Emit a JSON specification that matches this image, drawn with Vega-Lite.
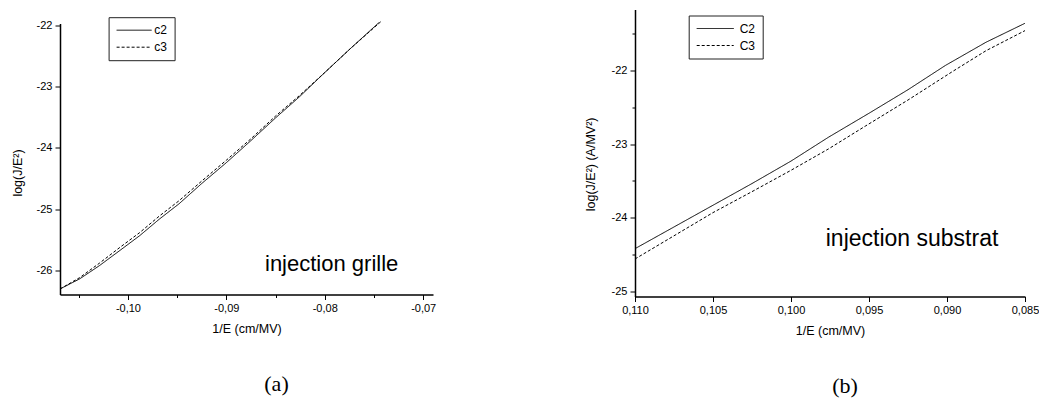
{
  "$schema": "https://vega.github.io/schema/vega-lite/v6.json",
  "background": "white",
  "padding": {"left": 11, "top": 6.5, "right": 0, "bottom": 0},
  "spacing": 148,
  "resolve": {"scale": {"strokeDash": "independent"}, "legend": {"strokeDash": "independent"}},
  "datasets": {
    "a": [
      {"x": -0.1069, "y": -26.30, "s": "c2"},
      {"x": -0.1049, "y": -26.135, "s": "c2"},
      {"x": -0.1029, "y": -25.92, "s": "c2"},
      {"x": -0.1008, "y": -25.67, "s": "c2"},
      {"x": -0.0988, "y": -25.43, "s": "c2"},
      {"x": -0.0968, "y": -25.16, "s": "c2"},
      {"x": -0.0948, "y": -24.91, "s": "c2"},
      {"x": -0.0925, "y": -24.58, "s": "c2"},
      {"x": -0.0900, "y": -24.24, "s": "c2"},
      {"x": -0.0875, "y": -23.88, "s": "c2"},
      {"x": -0.0850, "y": -23.51, "s": "c2"},
      {"x": -0.0826, "y": -23.17, "s": "c2"},
      {"x": -0.0800, "y": -22.77, "s": "c2"},
      {"x": -0.0774, "y": -22.38, "s": "c2"},
      {"x": -0.0745, "y": -21.956, "s": "c2"},
      {"x": -0.1069, "y": -26.30, "s": "c3"},
      {"x": -0.1049, "y": -26.115, "s": "c3"},
      {"x": -0.1029, "y": -25.88, "s": "c3"},
      {"x": -0.1008, "y": -25.62, "s": "c3"},
      {"x": -0.0988, "y": -25.38, "s": "c3"},
      {"x": -0.0968, "y": -25.11, "s": "c3"},
      {"x": -0.0948, "y": -24.86, "s": "c3"},
      {"x": -0.0925, "y": -24.54, "s": "c3"},
      {"x": -0.0900, "y": -24.20, "s": "c3"},
      {"x": -0.0875, "y": -23.85, "s": "c3"},
      {"x": -0.0850, "y": -23.48, "s": "c3"},
      {"x": -0.0826, "y": -23.15, "s": "c3"},
      {"x": -0.0800, "y": -22.77, "s": "c3"},
      {"x": -0.0774, "y": -22.38, "s": "c3"},
      {"x": -0.0743, "y": -21.94, "s": "c3"}
    ],
    "b": [
      {"x": 0.110, "y": -24.42, "s": "C2"},
      {"x": 0.1075, "y": -24.125, "s": "C2"},
      {"x": 0.105, "y": -23.83, "s": "C2"},
      {"x": 0.1025, "y": -23.535, "s": "C2"},
      {"x": 0.100, "y": -23.23, "s": "C2"},
      {"x": 0.0976, "y": -22.906, "s": "C2"},
      {"x": 0.095, "y": -22.58, "s": "C2"},
      {"x": 0.0925, "y": -22.26, "s": "C2"},
      {"x": 0.0901, "y": -21.93, "s": "C2"},
      {"x": 0.0875, "y": -21.615, "s": "C2"},
      {"x": 0.085, "y": -21.357, "s": "C2"},
      {"x": 0.110, "y": -24.56, "s": "C3"},
      {"x": 0.1075, "y": -24.245, "s": "C3"},
      {"x": 0.105, "y": -23.93, "s": "C3"},
      {"x": 0.1025, "y": -23.645, "s": "C3"},
      {"x": 0.100, "y": -23.355, "s": "C3"},
      {"x": 0.0976, "y": -23.065, "s": "C3"},
      {"x": 0.0952, "y": -22.75, "s": "C3"},
      {"x": 0.0925, "y": -22.40, "s": "C3"},
      {"x": 0.0897, "y": -22.02, "s": "C3"},
      {"x": 0.0875, "y": -21.73, "s": "C3"},
      {"x": 0.085, "y": -21.457, "s": "C3"}
    ],
    "notesA": [{"x": -0.0793, "y": -25.89, "t": "injection grille"}],
    "notesB": [{"x": 0.09224, "y": -24.29, "t": "injection substrat"}]
  },
  "hconcat": [
    {
      "spacing": 0,
      "vconcat": [
        {
          "width": 373,
          "height": 7.7,
          "data": {"values": [{}]},
          "mark": {"type": "text"},
          "encoding": {"text": {"value": ""}}
        },
        {
          "width": 373,
          "height": 271,
          "title": {"text": "(a)", "orient": "bottom", "font": "Liberation Serif", "fontSize": 22, "fontWeight": "normal", "color": "black", "dx": 30, "offset": 39},
          "layer": [
            {
              "data": {"name": "a"},
              "mark": {"type": "line", "color": "black", "strokeWidth": 1},
              "encoding": {
                "x": {"field": "x", "type": "quantitative",
                  "scale": {"domain": [-0.1069, -0.069], "nice": false, "zero": false},
                  "axis": {"title": "1/E (cm/MV)", "values": [-0.105, -0.1, -0.095, -0.09, -0.085, -0.08, -0.075, -0.07],
                    "labelExpr": "abs(datum.value*100 - round(datum.value*100)) > 0.01 ? '' : '-' + replace(format(abs(datum.value), '.2f'), '.', ',')",
                    "tickSize": {"condition": {"test": "abs(datum.value*100 - round(datum.value*100)) > 0.01", "value": 3}, "value": 5},
                    "titleY": 34, "titleBaseline": "middle"}},
                "y": {"field": "y", "type": "quantitative",
                  "scale": {"domain": [-26.39, -21.97], "nice": false, "zero": false},
                  "axis": {"title": "log(J/E²)", "values": [-26, -25.5, -25, -24.5, -24, -23.5, -23, -22.5, -22],
                    "labelExpr": "abs(datum.value - round(datum.value)) > 0.01 ? '' : '-' + format(abs(datum.value), 'd')",
                    "tickSize": {"condition": {"test": "abs(datum.value - round(datum.value)) > 0.01", "value": 3}, "value": 5},
                    "titleX": -42.7, "titleY": 149, "titleBaseline": "middle", "titleAlign": "center"}},
                "strokeDash": {"field": "s", "type": "nominal",
                  "scale": {"domain": ["c2", "c3"], "range": [[1, 0], [3, 2]]},
                  "legend": {"orient": "none", "legendX": 48.6, "legendY": 7.7, "title": null,
                    "symbolType": "M-1,0H6", "symbolSize": 100, "labelOffset": 26.7}}
              }
            },
            {
              "data": {"name": "notesA"},
              "mark": {"type": "text", "font": "Liberation Sans", "fontSize": 22, "color": "black", "align": "center", "baseline": "middle"},
              "encoding": {
                "x": {"field": "x", "type": "quantitative"},
                "y": {"field": "y", "type": "quantitative"},
                "text": {"field": "t"}
              }
            }
          ]
        }
      ]
    },
    {
      "width": 390,
      "height": 287,
      "title": {"text": "(b)", "orient": "bottom", "font": "Liberation Serif", "fontSize": 22, "fontWeight": "normal", "color": "black", "dx": 15, "offset": 39},
      "layer": [
        {
          "data": {"name": "b"},
          "mark": {"type": "line", "color": "black", "strokeWidth": 1},
          "encoding": {
            "x": {"field": "x", "type": "quantitative",
              "scale": {"domain": [0.085, 0.110], "reverse": true, "nice": false, "zero": false},
              "axis": {"title": "1/E (cm/MV)", "values": [0.11, 0.1075, 0.105, 0.1025, 0.1, 0.0975, 0.095, 0.0925, 0.09, 0.0875, 0.085],
                "labelExpr": "abs(datum.value*200 - round(datum.value*200)) > 0.01 ? '' : replace(format(datum.value, '.3f'), '.', ',')",
                "tickSize": {"condition": {"test": "abs(datum.value*200 - round(datum.value*200)) > 0.01", "value": 3}, "value": 5},
                "titleY": 34, "titleBaseline": "middle"}},
            "y": {"field": "y", "type": "quantitative",
              "scale": {"domain": [-25.07, -21.17], "nice": false, "zero": false},
              "axis": {"title": "log(J/E²)  (A/MV²)", "values": [-25, -24.5, -24, -23.5, -23, -22.5, -22, -21.5],
                "labelExpr": "abs(datum.value - round(datum.value)) > 0.01 ? '' : '-' + format(abs(datum.value), 'd')",
                "tickSize": {"condition": {"test": "abs(datum.value - round(datum.value)) > 0.01", "value": 3}, "value": 5},
                "titleX": -44.6, "titleY": 154.4, "titleBaseline": "middle", "titleAlign": "center"}},
            "strokeDash": {"field": "s", "type": "nominal",
              "scale": {"domain": ["C2", "C3"], "range": [[1, 0], [3, 2]]},
              "legend": {"orient": "none", "legendX": 53.7, "legendY": 6, "title": null,
                "symbolType": "M-1,0H6.4", "symbolSize": 100, "labelOffset": 32}}
          }
        },
        {
          "data": {"name": "notesB"},
          "mark": {"type": "text", "font": "Liberation Sans", "fontSize": 23, "color": "black", "align": "center", "baseline": "middle"},
          "encoding": {
            "x": {"field": "x", "type": "quantitative"},
            "y": {"field": "y", "type": "quantitative"},
            "text": {"field": "t"}
          }
        }
      ]
    }
  ],
  "config": {
    "view": {"stroke": null},
    "axis": {
      "grid": false, "domainColor": "black", "domainWidth": 1.5, "tickColor": "black", "tickWidth": 1,
      "labelFont": "Liberation Sans", "labelFontSize": 11, "labelColor": "black", "labelPadding": 3,
      "labelOverlap": false, "labelFlush": false, "labelBound": false,
      "titleFont": "Liberation Sans", "titleFontSize": 12.5, "titleFontWeight": "normal", "titleColor": "black"
    },
    "legend": {
      "symbolType": "M-1,0H6", "symbolSize": 100, "symbolStrokeColor": "black", "symbolStrokeWidth": 1, "symbolFillColor": "transparent",
      "labelFont": "Liberation Sans", "labelFontSize": 12, "labelColor": "black", "labelOffset": 27.5,
      "strokeColor": "#222", "padding": 7, "rowPadding": 5
    }
  }
}
